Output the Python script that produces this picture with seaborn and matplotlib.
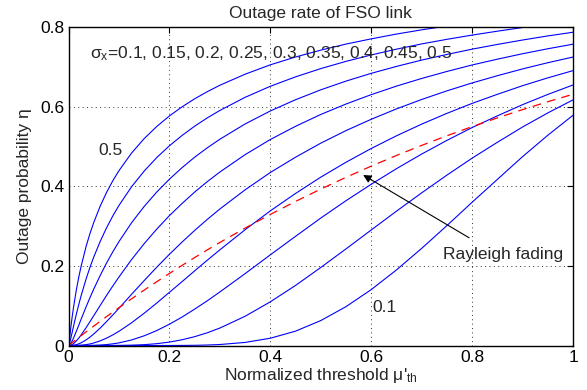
import matplotlib
matplotlib.use("Agg")
import matplotlib.pyplot as plt
import pandas as pd
import seaborn as sns

# ---- data ----
mu_th = [0, 0.001, 0.002, 0.0035, 0.005, 0.0075, 0.01, 0.015, 0.02, 0.025, 0.035, 0.0425,
         0.05, 0.0625, 0.075, 0.0875, 0.1, 0.125, 0.15, 0.175, 0.2, 0.225, 0.25, 0.275, 0.3,
         0.35, 0.4, 0.45, 0.5, 0.55, 0.6, 0.65, 0.7, 0.75, 0.8, 0.85, 0.9, 0.95, 1.0]

sigma_x = ["0.1", "0.15", "0.2", "0.25", "0.3", "0.35", "0.4", "0.45", "0.5"]

eta_010 = [0, 0, 0, 0, 0, 0, 0, 0, 0, 0, 0, 0, 0, 0, 0, 0, 0, 0, 0, 0,
           0.0001, 0.0002, 0.0005, 0.0012, 0.0025,
           0.0077, 0.0183, 0.0361, 0.0627, 0.0977, 0.1406, 0.1901, 0.2443, 0.3016, 0.3604,
           0.4178, 0.4751, 0.5289, 0.5793]
eta_015 = [0, 0, 0, 0, 0, 0, 0, 0, 0, 0, 0, 0, 0, 0, 0,
           0.0001, 0.0002, 0.0008, 0.0021, 0.0046, 0.0086, 0.0144, 0.0222, 0.0320, 0.0439,
           0.0735, 0.1099, 0.1511, 0.1963, 0.2430, 0.2906, 0.3379, 0.3840, 0.4286, 0.4713,
           0.5112, 0.5497, 0.5851, 0.6179]
eta_020 = [0, 0, 0, 0, 0, 0, 0, 0, 0, 0,
           0.0001, 0.0002, 0.0004, 0.0011, 0.0023, 0.0041, 0.0066, 0.0139, 0.0244, 0.0376,
           0.0536, 0.0715, 0.0915, 0.1124, 0.1347,
           0.1808, 0.2281, 0.2746, 0.3206, 0.3643, 0.4056, 0.4448, 0.4816, 0.5160, 0.5483,
           0.5777, 0.6059, 0.6316, 0.6554]
eta_025 = [0, 0, 0, 0, 0, 0, 0, 0.0001, 0.0003, 0.0007, 0.0022, 0.0039, 0.0063, 0.0115,
           0.0183, 0.0264, 0.0357, 0.0572, 0.0812, 0.1069, 0.1338, 0.1606, 0.1878, 0.2145,
           0.2407,
           0.2912, 0.3387, 0.3825, 0.4235, 0.4610, 0.4956, 0.5275, 0.5569, 0.5840, 0.6091,
           0.6319, 0.6536, 0.6733, 0.6915]
eta_030 = [0, 0, 0, 0, 0.0001, 0.0003, 0.0006, 0.0019, 0.0039, 0.0067, 0.0142, 0.0211,
           0.0289, 0.0435, 0.0596, 0.0764, 0.0936, 0.1288, 0.1633, 0.1971, 0.2294, 0.2601,
           0.2895, 0.3171, 0.3434,
           0.3916, 0.4352, 0.4737, 0.5090, 0.5406, 0.5691, 0.5952, 0.6189, 0.6406, 0.6605,
           0.6787, 0.6958, 0.7114, 0.7257]
eta_035 = [0, 0, 0.0001, 0.0004, 0.0010, 0.0026, 0.0048, 0.0107, 0.0181, 0.0265, 0.0451,
           0.0599, 0.0749, 0.1001, 0.1251, 0.1492, 0.1723, 0.2162, 0.2562, 0.2929, 0.3267,
           0.3572, 0.3859, 0.4121, 0.4364,
           0.4801, 0.5182, 0.5514, 0.5812, 0.6075, 0.6311, 0.6525, 0.6718, 0.6894, 0.7057,
           0.7203, 0.7340, 0.7465, 0.7580]
eta_040 = [0, 0.0002, 0.0010, 0.0031, 0.0060, 0.0120, 0.0189, 0.0341, 0.0500, 0.0661,
           0.0977, 0.1202, 0.1418, 0.1754, 0.2065, 0.2350, 0.2614, 0.3088, 0.3498, 0.3862,
           0.4184, 0.4473, 0.4737, 0.4972, 0.5189,
           0.5573, 0.5900, 0.6183, 0.6432, 0.6651, 0.6847, 0.7021, 0.7180, 0.7322, 0.7455,
           0.7574, 0.7685, 0.7788, 0.7881]
eta_045 = [0, 0.0017, 0.0053, 0.0125, 0.0205, 0.0346, 0.0487, 0.0759, 0.1015, 0.1253,
           0.1680, 0.1965, 0.2224, 0.2609, 0.2950, 0.3253, 0.3523, 0.3994, 0.4388, 0.4729,
           0.5024, 0.5283, 0.5517, 0.5726, 0.5913,
           0.6243, 0.6521, 0.6758, 0.6966, 0.7148, 0.7309, 0.7455, 0.7587, 0.7702, 0.7809,
           0.7907, 0.8000, 0.8083, 0.8159]
eta_050 = [0, 0.0071, 0.0175, 0.0339, 0.0496, 0.0743, 0.0964, 0.1357, 0.1699, 0.1995,
           0.2498, 0.2815, 0.3092, 0.3497, 0.3840, 0.4138, 0.4398, 0.4842, 0.5205, 0.5511,
           0.5775, 0.6003, 0.6206, 0.6385, 0.6547,
           0.6825, 0.7061, 0.7258, 0.7430, 0.7583, 0.7714, 0.7835, 0.7941, 0.8037, 0.8127,
           0.8210, 0.8284, 0.8350, 0.8413]

eta_rayleigh = [0, 0.0010, 0.0020, 0.0035, 0.0050, 0.0075, 0.0100, 0.0149, 0.0198, 0.0247,
                0.0344, 0.0416, 0.0488, 0.0606, 0.0723, 0.0838, 0.0952, 0.1175, 0.1393,
                0.1605, 0.1813, 0.2015, 0.2212, 0.2404, 0.2592,
                0.2953, 0.3297, 0.3624, 0.3935, 0.4231, 0.4512, 0.4780, 0.5034, 0.5276,
                0.5507, 0.5726, 0.5934, 0.6133, 0.6321]

x_ticks = [0, 0.2, 0.4, 0.6, 0.8, 1.0]
x_tick_labels = ["0", "0.2", "0.4", "0.6", "0.8", "1"]
y_ticks = [0, 0.2, 0.4, 0.6, 0.8]
y_tick_labels = ["0", "0.2", "0.4", "0.6", "0.8"]

# ---- build long table ----
curves = [eta_010, eta_015, eta_020, eta_025, eta_030, eta_035, eta_040, eta_045, eta_050]
for c in curves + [eta_rayleigh]:
    assert len(c) == len(mu_th)
rows = []
for s, vals in zip(sigma_x, curves):
    for m, e in zip(mu_th, vals):
        rows.append({"mu": m, "eta": e, "sigma": s})
df = pd.DataFrame(rows)
df_ray = pd.DataFrame({"mu": mu_th, "eta": eta_rayleigh})

# ---- style ----
sns.set_style("white")
plt.rcParams["font.family"] = ["Liberation Sans", "DejaVu Sans"]
plt.rcParams["mathtext.fontset"] = "custom"
plt.rcParams["mathtext.rm"] = "Liberation Sans"
plt.rcParams["mathtext.it"] = "Liberation Sans:italic"
FS = 12.5

fig = plt.figure(figsize=(5.87, 3.90), dpi=100)
ax = fig.add_axes([0.1167, 0.1141, 0.8595, 0.8154])

sns.lineplot(data=df, x="mu", y="eta", hue="sigma", palette={s: "#0000ff" for s in sigma_x},
             estimator=None, sort=False, legend=False, linewidth=0.8, ax=ax)
sns.lineplot(data=df_ray, x="mu", y="eta", color="#ff0000", estimator=None, sort=False,
             linewidth=0.9, linestyle=(0, (7, 5)), ax=ax)

ax.set_xlim(0, 1)
ax.set_ylim(0, 0.8)
ax.set_xticks(x_ticks)
ax.set_xticklabels(x_tick_labels)
ax.set_yticks(y_ticks)
ax.set_yticklabels(y_tick_labels)
ax.grid(True, color="#333333", linestyle=(0, (1, 3.5)), linewidth=0.7)
ax.tick_params(direction="in", top=True, right=True, length=4, width=0.8,
               labelsize=FS, pad=3, colors="black")
for sp in ax.spines.values():
    sp.set_color("black")
    sp.set_linewidth(1.0)

ax.set_title("Outage rate of FSO link", fontsize=FS, pad=7)
ax.set_xlabel("Normalized threshold μ$'_{\\mathregular{th}}$", fontsize=FS, labelpad=1)
ax.set_ylabel("Outage probability η", fontsize=FS, labelpad=6)

ax.text(0.043, 0.7225, "σ$_{\\mathregular{x}}$=0.1, 0.15, 0.2, 0.25, 0.3, 0.35, 0.4, 0.45, 0.5",
        fontsize=FS, ha="left", va="baseline")
ax.text(0.059, 0.479, "0.5", fontsize=FS, ha="left", va="baseline")
ax.text(0.602, 0.085, "0.1", fontsize=FS, ha="left", va="baseline")
ax.text(0.742, 0.217, "Rayleigh fading", fontsize=FS, ha="left", va="baseline")
ax.annotate("", xy=(0.584, 0.429), xytext=(0.794, 0.271),
            arrowprops=dict(arrowstyle="-|>", color="black", lw=0.8,
                            mutation_scale=12, shrinkA=0, shrinkB=0))

fig.savefig("out.png", dpi=100)
